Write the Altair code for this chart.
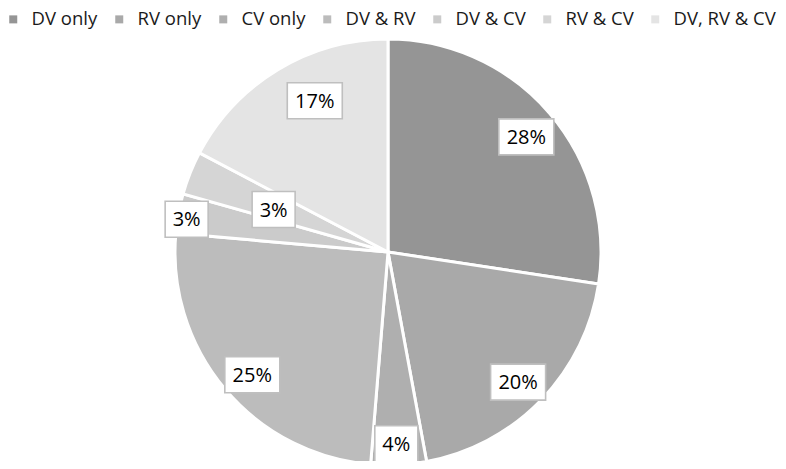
import altair as alt
import pandas as pd

# ---- data ----
categories = ["DV only", "RV only", "CV only", "DV & RV", "DV & CV", "RV & CV", "DV, RV & CV"]
values = [27.4, 19.7, 4.2, 25.1, 3.0, 3.3, 17.3]
labels = ["28%", "20%", "4%", "25%", "3%", "3%", "17%"]

# ---- styling / layout ----
colors = ["#959595", "#a9a9a9", "#afafaf", "#bcbcbc", "#cbcbcb", "#d5d5d5", "#e4e4e4"]
label_radius = [180, 184, 192, 183, 204, 122, 168]
label_shift_deg = [0.9, 0.9, 0.4, -2.0, -1.2, -1.4, 5.3]

df = pd.DataFrame({
    "category": categories,
    "value": values,
    "label": labels,
    "order": list(range(len(categories))),
    "lr": label_radius,
    "ls": label_shift_deg,
})

W, H = 770, 453
CX, CY = 380, 244
R = 213
xscale = alt.Scale(domain=[-CX, W - CX], nice=False, zero=False)
yscale = alt.Scale(domain=[-(H - CY), CY], nice=False, zero=False)

base = alt.Chart(df)

pie = base.mark_arc(radius=R, stroke="white", strokeWidth=3).encode(
    theta=alt.Theta("value:Q", stack=True),
    order=alt.Order("order:Q"),
    color=alt.Color(
        "category:N",
        scale=alt.Scale(domain=categories, range=colors),
        sort=categories,
        legend=alt.Legend(
            title=None, orient="none", legendX=-4, legendY=2,
            direction="horizontal", columns=7,
            symbolType="square", symbolSize=64, symbolStrokeWidth=0,
            labelFont="Open Sans", labelFontSize=18.5, labelColor="#1a1a1a",
            labelOffset=9, columnPadding=12, padding=0,
        ),
    ),
    x=alt.value(CX),
    y=alt.value(CY),
)

lab = base.transform_joinaggregate(
    total="sum(value)"
).transform_window(
    cum="sum(value)", sort=[alt.SortField("order")], frame=[None, 0]
).transform_calculate(
    mid="(datum.cum - datum.value / 2) / datum.total * 2 * PI + datum.ls * PI / 180"
).transform_calculate(
    cx="datum.lr * sin(datum.mid)",
    cy="datum.lr * cos(datum.mid)",
).transform_calculate(
    bw="12 * length(datum.label) + 19"
).transform_calculate(
    bx1="datum.cx - datum.bw / 2",
    bx2="datum.cx + datum.bw / 2",
    by1="datum.cy - 18",
    by2="datum.cy + 18",
)

boxes = lab.mark_rect(fill="white", stroke="#bfbfbf", strokeWidth=1.6).encode(
    x=alt.X("bx1:Q", scale=xscale, axis=None),
    x2="bx2:Q",
    y=alt.Y("by1:Q", scale=yscale, axis=None),
    y2="by2:Q",
)

texts = lab.mark_text(font="Open Sans", fontSize=20, color="black", baseline="middle", align="center", dy=1).encode(
    x=alt.X("cx:Q", scale=xscale, axis=None),
    y=alt.Y("cy:Q", scale=yscale, axis=None),
    text="label:N",
)

chart = alt.layer(pie, boxes, texts).properties(
    width=W, height=H, padding=0,
    autosize=alt.AutoSizeParams(type="none"),
).configure_view(strokeWidth=0)

chart.save("out.html", embed_options={"renderer": "svg", "actions": False})
